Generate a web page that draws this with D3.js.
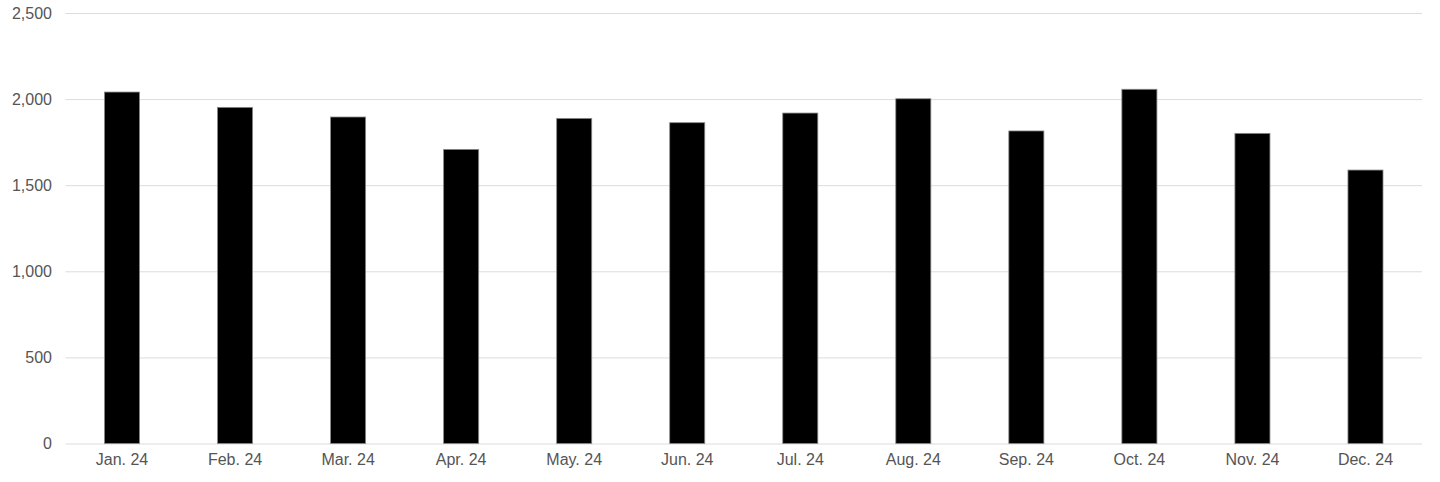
<!DOCTYPE html>
<html>
<head>
<meta charset="utf-8">
<script src="https://cdn.jsdelivr.net/npm/d3@7"></script>
<style>
  html, body { margin: 0; padding: 0; background: #fff; }
  svg { display: block; }
  text { font-family: "Liberation Sans", Arial, Helvetica, sans-serif; }
</style>
</head>
<body>
<svg id="chart" width="1440" height="482"></svg>
<script>
const categories = ["Jan. 24", "Feb. 24", "Mar. 24", "Apr. 24", "May. 24", "Jun. 24", "Jul. 24", "Aug. 24", "Sep. 24", "Oct. 24", "Nov. 24", "Dec. 24"];
const values = [2041, 1952, 1896, 1708, 1888, 1863, 1919, 2002, 1815, 2057, 1801, 1588];
const yTicks = [0, 500, 1000, 1500, 2000, 2500];

const svg = d3.select("#chart");
const margin = { left: 65.5, right: 18, top: 13, bottom: 38.5 };
const W = 1440, H = 482;

const x = d3.scaleBand()
  .domain(categories)
  .range([margin.left, W - margin.right])
  .paddingInner(0.69)
  .paddingOuter(0.345);

const y = d3.scaleLinear()
  .domain([0, 2500])
  .range([H - margin.bottom, margin.top]);

// gridlines
const yAxis = d3.axisLeft(y)
  .tickValues(yTicks)
  .tickSize(-(W - margin.right - margin.left))
  .tickPadding(13.5)
  .tickFormat(d3.format(","));

const gy = svg.append("g")
  .attr("transform", `translate(${margin.left},0)`)
  .call(yAxis);
gy.select(".domain").remove();
gy.selectAll(".tick line").attr("stroke", "#dcdcdc").attr("stroke-width", 1);
gy.selectAll(".tick text")
  .attr("fill", "#555")
  .attr("font-size", 16)
  .attr("dy", "0.32em");

// bars
svg.append("g")
  .selectAll("rect")
  .data(values)
  .join("rect")
  .attr("x", (d, i) => x(categories[i]))
  .attr("width", x.bandwidth())
  .attr("y", d => y(d))
  .attr("height", d => y(0) - y(d))
  .attr("fill", "#000")
  .attr("stroke", "#888")
  .attr("stroke-width", 0.8);

// x axis labels
const xAxis = d3.axisBottom(x).tickSize(0).tickPadding(10);
const gx = svg.append("g")
  .attr("transform", `translate(0,${y(0)})`)
  .call(xAxis);
gx.select(".domain").remove();
gx.selectAll(".tick text")
  .attr("fill", "#555")
  .attr("font-size", 16);
</script>
</body>
</html>
